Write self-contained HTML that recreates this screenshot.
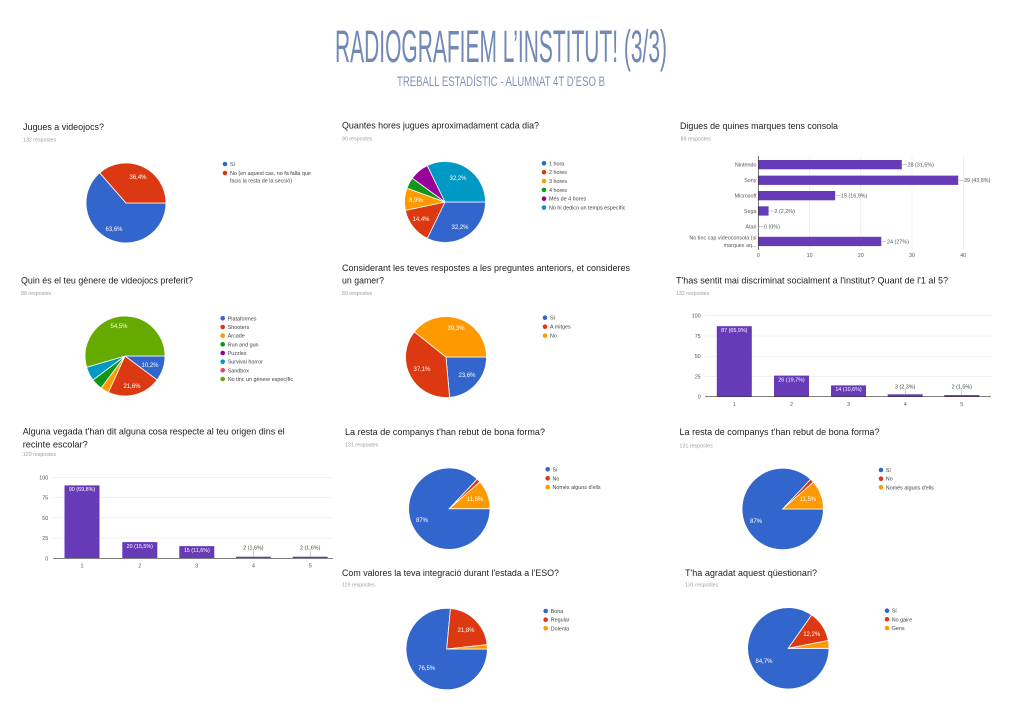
<!DOCTYPE html>
<html><head><meta charset="utf-8"><style>
html,body{margin:0;padding:0;background:#fff;}
svg{display:block;}
text{font-family:"Liberation Sans",sans-serif;}
.t{font-size:9.5px;fill:#212121;}
.r{font-size:5.3px;fill:#9e9e9e;}
.lg{font-size:5.4px;fill:#424242;}
.pl{font-size:6px;fill:#fff;text-anchor:middle;}
.ax{font-size:5.4px;fill:#555;}
.bl{font-size:5.4px;fill:#fff;text-anchor:middle;}
.bg{font-size:5.4px;fill:#444;text-anchor:middle;}
.sl{stroke:#fff;stroke-width:0.8;}
</style></head><body>
<svg width="1024" height="724" viewBox="0 0 1024 724" xmlns="http://www.w3.org/2000/svg">
<rect width="1024" height="724" fill="#fff"/>
<!-- header -->
<text x="335" y="62" font-size="45" fill="#7189b4" textLength="332" lengthAdjust="spacingAndGlyphs">RADIOGRAFIEM L’INSTITUT! (3/3)</text>
<text x="397" y="86" font-size="13.5" fill="#7c93bb" textLength="208" lengthAdjust="spacingAndGlyphs">TREBALL ESTADÍSTIC - ALUMNAT 4T D’ESO B</text>

<!-- P1 -->
<text class="t" x="23" y="130" textLength="81" lengthAdjust="spacingAndGlyphs">Jugues a videojocs?</text>
<text class="r" x="23" y="141.7">132 respostes</text>
<path class="sl" fill="#3366cc" d="M126,203 L166,203 A40,40 0 1 1 99.7,172.8 Z"/>
<path class="sl" fill="#dc3912" d="M126,203 L99.7,172.8 A40,40 0 0 1 166,203 Z"/>
<text class="pl" x="114" y="231">63,6%</text>
<text class="pl" x="138" y="179">36,4%</text>
<circle cx="225" cy="164" r="2.3" fill="#3366cc"/><text class="lg" x="230" y="166">Sí</text>
<circle cx="225" cy="173" r="2.3" fill="#dc3912"/><text class="lg" x="230" y="175">No (en aquest cas, no fa falta que</text>
<text class="lg" x="230" y="182.5">facis la resta de la secció)</text>

<!-- P2 -->
<text class="t" x="342" y="128.5" textLength="197" lengthAdjust="spacingAndGlyphs">Quantes hores jugues aproximadament cada dia?</text>
<text class="r" x="342" y="140.7">90 respostes</text>
<path class="sl" fill="#3366cc" d="M445,202 L485.5,202 A40.5,40.5 0 0 1 427.24,238.4 Z"/>
<path class="sl" fill="#dc3912" d="M445,202 L427.24,238.4 A40.5,40.5 0 0 1 405.39,210.42 Z"/>
<path class="sl" fill="#ff9900" d="M445,202 L405.39,210.42 A40.5,40.5 0 0 1 406.94,188.15 Z"/>
<path class="sl" fill="#109618" d="M445,202 L406.94,188.15 A40.5,40.5 0 0 1 412.24,178.19 Z"/>
<path class="sl" fill="#990099" d="M445,202 L412.24,178.19 A40.5,40.5 0 0 1 427.24,165.6 Z"/>
<path class="sl" fill="#0099c6" d="M445,202 L427.24,165.6 A40.5,40.5 0 0 1 485.5,202 Z"/>
<text class="pl" x="460" y="229">32,2%</text>
<text class="pl" x="421" y="221">14,4%</text>
<text class="pl" x="416" y="202">8,9%</text>
<text class="pl" x="458" y="180">32,2%</text>
<circle cx="544" cy="163.3" r="2.3" fill="#3366cc"/><text class="lg" x="549" y="165.3">1 hora</text>
<circle cx="544" cy="172.2" r="2.3" fill="#dc3912"/><text class="lg" x="549" y="174.2">2 hores</text>
<circle cx="544" cy="181" r="2.3" fill="#ff9900"/><text class="lg" x="549" y="183">3 hores</text>
<circle cx="544" cy="189.9" r="2.3" fill="#109618"/><text class="lg" x="549" y="191.9">4 hores</text>
<circle cx="544" cy="198.7" r="2.3" fill="#990099"/><text class="lg" x="549" y="200.7">Més de 4 hores</text>
<circle cx="544" cy="207.6" r="2.3" fill="#0099c6"/><text class="lg" x="549" y="209.6">No hi dedico un temps específic</text>

<!-- P3 bar chart -->
<text class="t" x="680" y="129" textLength="158" lengthAdjust="spacingAndGlyphs">Digues de quines marques tens consola</text>
<text class="r" x="680.5" y="140.7">89 respostes</text>
<g stroke="#e6e6e6" stroke-width="0.6">
<line x1="809.6" y1="156" x2="809.6" y2="250"/>
<line x1="860.8" y1="156" x2="860.8" y2="250"/>
<line x1="912" y1="156" x2="912" y2="250"/>
<line x1="963.3" y1="156" x2="963.3" y2="250"/>
</g>
<g fill="#673ab7">
<rect x="758.3" y="160" width="143.5" height="9.3"/>
<rect x="758.3" y="175.6" width="199.9" height="9.3"/>
<rect x="758.3" y="191" width="76.9" height="9.3"/>
<rect x="758.3" y="206.3" width="10.3" height="9.3"/>
<rect x="758.3" y="236.8" width="123" height="9.3"/>
</g>
<line x1="758.3" y1="156" x2="758.3" y2="250" stroke="#333" stroke-width="0.7"/>
<g stroke="#999" stroke-width="0.5">
<line x1="902.5" y1="164.6" x2="907" y2="164.6"/>
<line x1="959" y1="180.2" x2="963.5" y2="180.2"/>
<line x1="836" y1="195.6" x2="840.5" y2="195.6"/>
<line x1="769.4" y1="211" x2="774" y2="211"/>
<line x1="759" y1="226.3" x2="763.5" y2="226.3"/>
<line x1="882" y1="241.4" x2="886.5" y2="241.4"/>
</g>
<g class="ax">
<text x="907.5" y="166.6">28 (31,5%)</text>
<text x="964" y="182.2">39 (43,8%)</text>
<text x="841" y="197.6">15 (16,9%)</text>
<text x="774.5" y="213">2 (2,2%)</text>
<text x="764" y="228.3">0 (0%)</text>
<text x="887" y="243.4">24 (27%)</text>
</g>
<g class="ax" text-anchor="end">
<text x="756.5" y="166.6">Nintendo</text>
<text x="756.5" y="182.2">Sony</text>
<text x="756.5" y="197.6">Microsoft</text>
<text x="756.5" y="213">Sega</text>
<text x="756.5" y="228.3">Atari</text>
<text x="756.5" y="239.7">No tinc cap videoconsola (si</text>
<text x="756.5" y="247">marques aq...</text>
</g>
<g class="ax" text-anchor="middle">
<text x="758.3" y="257">0</text>
<text x="809.6" y="257">10</text>
<text x="860.8" y="257">20</text>
<text x="912" y="257">30</text>
<text x="963.3" y="257">40</text>
</g>

<!-- P4 -->
<text class="t" x="21" y="283.3" textLength="172" lengthAdjust="spacingAndGlyphs">Quin és el teu gènere de videojocs preferit?</text>
<text class="r" x="21" y="295">88 respostes</text>
<path class="sl" fill="#3366cc" d="M125,356 L165,356 A40,40 0 0 1 157.02,379.97 Z"/>
<path class="sl" fill="#dc3912" d="M125,356 L157.02,379.97 A40,40 0 0 1 108.38,392.38 Z"/>
<path class="sl" fill="#ff9900" d="M125,356 L108.38,392.38 A40,40 0 0 1 101.03,388.02 Z"/>
<path class="sl" fill="#109618" d="M125,356 L101.03,388.02 A40,40 0 0 1 92.98,379.97 Z"/>
<path class="sl" fill="#0099c6" d="M125,356 L92.98,379.97 A40,40 0 0 1 86.62,367.27 Z"/>
<path class="sl" fill="#66aa00" d="M125,356 L86.62,367.27 A40,40 0 1 1 165,356 Z"/>
<text class="pl" x="150" y="367">10,2%</text>
<text class="pl" x="132" y="388">21,6%</text>
<text class="pl" x="119" y="328">54,5%</text>
<circle cx="222.7" cy="318.3" r="2.3" fill="#3366cc"/><text class="lg" x="227.7" y="320.3">Plataformes</text>
<circle cx="222.7" cy="327" r="2.3" fill="#dc3912"/><text class="lg" x="227.7" y="329">Shooters</text>
<circle cx="222.7" cy="335.7" r="2.3" fill="#ff9900"/><text class="lg" x="227.7" y="337.7">Arcade</text>
<circle cx="222.7" cy="344.3" r="2.3" fill="#109618"/><text class="lg" x="227.7" y="346.3">Run and gun</text>
<circle cx="222.7" cy="353" r="2.3" fill="#990099"/><text class="lg" x="227.7" y="355">Puzzles</text>
<circle cx="222.7" cy="361.7" r="2.3" fill="#0099c6"/><text class="lg" x="227.7" y="363.7">Survival horror</text>
<circle cx="222.7" cy="370.3" r="2.3" fill="#dd4477"/><text class="lg" x="227.7" y="372.3">Sandbox</text>
<circle cx="222.7" cy="379" r="2.3" fill="#66aa00"/><text class="lg" x="227.7" y="381">No tinc un gènere específic</text>

<!-- P5 -->
<text class="t" x="342" y="271" textLength="288" lengthAdjust="spacingAndGlyphs">Considerant les teves respostes a les preguntes anteriors, et consideres</text>
<text class="t" x="342" y="283.3" textLength="42" lengthAdjust="spacingAndGlyphs">un gamer?</text>
<text class="r" x="342" y="295">89 respostes</text>
<path class="sl" fill="#3366cc" d="M446,357 L486.5,357 A40.5,40.5 0 0 1 449.57,397.34 Z"/>
<path class="sl" fill="#dc3912" d="M446,357 L449.57,397.34 A40.5,40.5 0 0 1 414.27,331.83 Z"/>
<path class="sl" fill="#ff9900" d="M446,357 L414.27,331.83 A40.5,40.5 0 0 1 486.5,357 Z"/>
<text class="pl" x="467" y="377">23,6%</text>
<text class="pl" x="422" y="371">37,1%</text>
<text class="pl" x="456" y="330">39,3%</text>
<circle cx="545" cy="317.7" r="2.3" fill="#3366cc"/><text class="lg" x="550" y="319.7">Sí</text>
<circle cx="545" cy="326.7" r="2.3" fill="#dc3912"/><text class="lg" x="550" y="328.7">A mitges</text>
<circle cx="545" cy="335.7" r="2.3" fill="#ff9900"/><text class="lg" x="550" y="337.7">No</text>

<!-- P6 -->
<text class="t" x="676" y="283.3" textLength="272" lengthAdjust="spacingAndGlyphs">T'has sentit mai discriminat socialment a l'institut? Quant de l'1 al 5?</text>
<text class="r" x="676" y="295">132 respostes</text>
<g stroke="#e6e6e6" stroke-width="0.6">
<line x1="705" y1="315.7" x2="991" y2="315.7"/>
<line x1="705" y1="335.95" x2="991" y2="335.95"/>
<line x1="705" y1="356.2" x2="991" y2="356.2"/>
<line x1="705" y1="376.45" x2="991" y2="376.45"/>
</g>
<g class="ax" text-anchor="end">
<text x="700.7" y="317.7">100</text>
<text x="700.7" y="338">75</text>
<text x="700.7" y="358.2">50</text>
<text x="700.7" y="378.5">25</text>
<text x="700.7" y="398.7">0</text>
</g>
<g fill="#673ab7">
<rect x="716.8" y="326.2" width="35" height="70.5"/>
<rect x="774" y="375.6" width="35" height="21.1"/>
<rect x="831" y="385.4" width="35" height="11.3"/>
<rect x="887.7" y="394.3" width="35" height="2.4"/>
<rect x="944.3" y="395.1" width="35" height="1.6"/>
</g>
<line x1="705" y1="396.7" x2="991" y2="396.7" stroke="#333" stroke-width="0.7"/>
<text class="bl" x="734.3" y="332">87 (65,9%)</text>
<text class="bl" x="791.5" y="381.4">26 (19,7%)</text>
<text class="bl" x="848.5" y="391.2">14 (10,6%)</text>
<line x1="905.2" y1="389.5" x2="905.2" y2="394.3" stroke="#999" stroke-width="0.5"/>
<line x1="961.8" y1="389.5" x2="961.8" y2="395.1" stroke="#999" stroke-width="0.5"/>
<text class="bg" x="905.2" y="388.5">3 (2,3%)</text>
<text class="bg" x="961.8" y="388.5">2 (1,5%)</text>
<g class="ax" text-anchor="middle">
<text x="734.3" y="406">1</text>
<text x="791.5" y="406">2</text>
<text x="848.5" y="406">3</text>
<text x="905.2" y="406">4</text>
<text x="961.8" y="406">5</text>
</g>

<!-- P7 -->
<text class="t" x="22.7" y="434.3" textLength="262" lengthAdjust="spacingAndGlyphs">Alguna vegada t'han dit alguna cosa respecte al teu origen dins el</text>
<text class="t" x="22.7" y="447.7" textLength="65" lengthAdjust="spacingAndGlyphs">recinte escolar?</text>
<text class="r" x="22.7" y="456">129 respostes</text>
<g stroke="#e6e6e6" stroke-width="0.6">
<line x1="53" y1="477.3" x2="333" y2="477.3"/>
<line x1="53" y1="497.55" x2="333" y2="497.55"/>
<line x1="53" y1="517.8" x2="333" y2="517.8"/>
<line x1="53" y1="538.05" x2="333" y2="538.05"/>
</g>
<g class="ax" text-anchor="end">
<text x="48.3" y="479.3">100</text>
<text x="48.3" y="499.5">75</text>
<text x="48.3" y="519.8">50</text>
<text x="48.3" y="540">25</text>
<text x="48.3" y="560.3">0</text>
</g>
<g fill="#673ab7">
<rect x="64.5" y="485.4" width="35" height="72.9"/>
<rect x="122.3" y="542.1" width="35" height="16.2"/>
<rect x="179.3" y="546.15" width="35" height="12.15"/>
<rect x="235.9" y="556.7" width="35" height="1.6"/>
<rect x="292.7" y="556.7" width="35" height="1.6"/>
</g>
<line x1="53" y1="558.3" x2="333" y2="558.3" stroke="#333" stroke-width="0.7"/>
<text class="bl" x="82" y="491.2">90 (69,8%)</text>
<text class="bl" x="139.8" y="547.9">20 (15,5%)</text>
<text class="bl" x="196.8" y="551.9">15 (11,6%)</text>
<line x1="253.4" y1="550.5" x2="253.4" y2="556.7" stroke="#999" stroke-width="0.5"/>
<line x1="310.2" y1="550.5" x2="310.2" y2="556.7" stroke="#999" stroke-width="0.5"/>
<text class="bg" x="253.4" y="549.5">2 (1,6%)</text>
<text class="bg" x="310.2" y="549.5">2 (1,6%)</text>
<g class="ax" text-anchor="middle">
<text x="82" y="567.5">1</text>
<text x="139.8" y="567.5">2</text>
<text x="196.8" y="567.5">3</text>
<text x="253.4" y="567.5">4</text>
<text x="310.2" y="567.5">5</text>
</g>

<!-- P8 -->
<text class="t" x="345" y="435" textLength="200" lengthAdjust="spacingAndGlyphs">La resta de companys t'han rebut de bona forma?</text>
<text class="r" x="345" y="446.7">131 respostes</text>
<path class="sl" fill="#3366cc" d="M449.3,508.7 L490,508.7 A40.7,40.7 0 1 1 477.22,479.08 Z"/>
<path class="sl" fill="#dc3912" d="M449.3,508.7 L477.22,479.08 A40.7,40.7 0 0 1 479.91,481.87 Z"/>
<path class="sl" fill="#ff9900" d="M449.3,508.7 L479.91,481.87 A40.7,40.7 0 0 1 490,508.7 Z"/>
<text class="pl" x="422" y="522">87%</text>
<text class="pl" x="475" y="501">11,5%</text>
<circle cx="547.7" cy="469.3" r="2.3" fill="#3366cc"/><text class="lg" x="552.5" y="471.3">Sí</text>
<circle cx="547.7" cy="478.3" r="2.3" fill="#dc3912"/><text class="lg" x="552.5" y="480.3">No</text>
<circle cx="547.7" cy="487" r="2.3" fill="#ff9900"/><text class="lg" x="552.5" y="489">Només alguns d'ells</text>

<!-- P9 -->
<text class="t" x="679.5" y="435" textLength="200" lengthAdjust="spacingAndGlyphs">La resta de companys t'han rebut de bona forma?</text>
<text class="r" x="679.5" y="447.3">131 respostes</text>
<path class="sl" fill="#3366cc" d="M782.7,509 L823.4,509 A40.7,40.7 0 1 1 810.62,479.38 Z"/>
<path class="sl" fill="#dc3912" d="M782.7,509 L810.62,479.38 A40.7,40.7 0 0 1 813.31,482.17 Z"/>
<path class="sl" fill="#ff9900" d="M782.7,509 L813.31,482.17 A40.7,40.7 0 0 1 823.4,509 Z"/>
<text class="pl" x="756" y="523">87%</text>
<text class="pl" x="808" y="501">11,5%</text>
<circle cx="881" cy="470" r="2.3" fill="#3366cc"/><text class="lg" x="885.8" y="472">Sí</text>
<circle cx="881" cy="478.7" r="2.3" fill="#dc3912"/><text class="lg" x="885.8" y="480.7">No</text>
<circle cx="881" cy="487.3" r="2.3" fill="#ff9900"/><text class="lg" x="885.8" y="489.3">Només alguns d'ells</text>

<!-- P10 -->
<text class="t" x="342" y="576" textLength="217" lengthAdjust="spacingAndGlyphs">Com valores la teva integració durant l'estada a l'ESO?</text>
<text class="r" x="342" y="586.7">119 respostes</text>
<path class="sl" fill="#3366cc" d="M446.7,649 L487.4,649 A40.7,40.7 0 1 1 450.45,608.48 Z"/>
<path class="sl" fill="#dc3912" d="M446.7,649 L450.45,608.48 A40.7,40.7 0 0 1 487.17,644.71 Z"/>
<path class="sl" fill="#ff9900" d="M446.7,649 L487.17,644.71 A40.7,40.7 0 0 1 487.4,649 Z"/>
<text class="pl" x="426.7" y="670">76,5%</text>
<text class="pl" x="466" y="632">21,8%</text>
<circle cx="545.7" cy="611" r="2.3" fill="#3366cc"/><text class="lg" x="550.7" y="613">Bona</text>
<circle cx="545.7" cy="619.7" r="2.3" fill="#dc3912"/><text class="lg" x="550.7" y="621.7">Regular</text>
<circle cx="545.7" cy="628.3" r="2.3" fill="#ff9900"/><text class="lg" x="550.7" y="630.3">Dolenta</text>

<!-- P11 -->
<text class="t" x="685" y="576" textLength="132" lengthAdjust="spacingAndGlyphs">T'ha agradat aquest qüestionari?</text>
<text class="r" x="685" y="586.7">131 respostes</text>
<path class="sl" fill="#3366cc" d="M788.3,648.3 L829,648.3 A40.7,40.7 0 1 1 811.67,614.98 Z"/>
<path class="sl" fill="#dc3912" d="M788.3,648.3 L811.67,614.98 A40.7,40.7 0 0 1 828.25,640.54 Z"/>
<path class="sl" fill="#ff9900" d="M788.3,648.3 L828.25,640.54 A40.7,40.7 0 0 1 829,648.3 Z"/>
<text class="pl" x="764" y="663">84,7%</text>
<text class="pl" x="811.7" y="636">12,2%</text>
<circle cx="887" cy="610.7" r="2.3" fill="#3366cc"/><text class="lg" x="891.7" y="612.7">Sí</text>
<circle cx="887" cy="619.3" r="2.3" fill="#dc3912"/><text class="lg" x="891.7" y="621.3">No gaire</text>
<circle cx="887" cy="628" r="2.3" fill="#ff9900"/><text class="lg" x="891.7" y="630">Gens</text>
</svg>
</body></html>
